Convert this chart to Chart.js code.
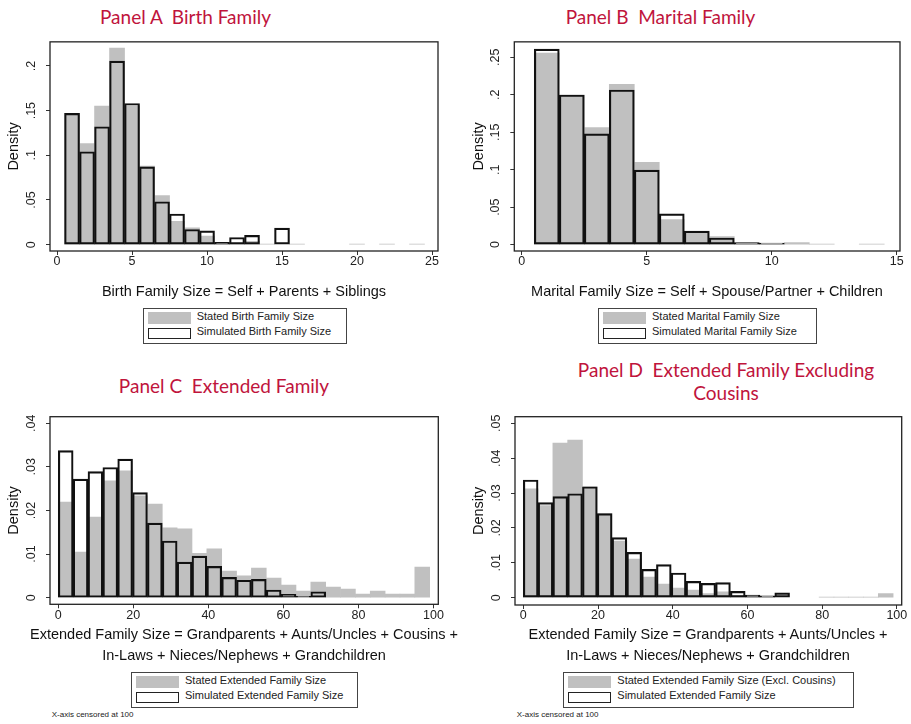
<!DOCTYPE html>
<html><head><meta charset="utf-8">
<script src="https://cdn.jsdelivr.net/npm/chart.js@4.4.1/dist/chart.umd.min.js"></script>
<style>
html,body{margin:0;padding:0;background:#fff;}
body{width:911px;height:724px;position:relative;overflow:hidden;font-family:"Liberation Sans",Arial,sans-serif;}
canvas{position:absolute;}
.title{position:absolute;color:#c0143c;font-family:Lato,"Open Sans",sans-serif;font-size:19px;white-space:pre;text-align:center;transform:translateX(-50%);line-height:23px;}
.xt{position:absolute;font-size:14.5px;color:#111;white-space:nowrap;text-align:center;transform:translateX(-50%);line-height:21px;}
.legend{position:absolute;border:1px solid #444;box-sizing:border-box;height:36px;font-size:11px;color:#222;}
.legend .s1{position:absolute;left:4px;top:3px;width:43px;height:12px;background:#c0c0c0;}
.legend .s2{position:absolute;left:4px;top:19.5px;width:43px;height:10.5px;border:1.4px solid #222;box-sizing:border-box;}
.legend .t{position:absolute;left:53px;line-height:13px;white-space:nowrap;}
.note{position:absolute;font-size:8px;color:#222;line-height:10px;white-space:nowrap;}
</style></head>
<body>
<div class="title" style="left:185.5px;top:4.5px">Panel A  Birth Family</div>
<div class="title" style="left:660.5px;top:4.5px">Panel B  Marital Family</div>
<div class="title" style="left:224px;top:373.5px">Panel C  Extended Family</div>
<div class="title" style="left:726px;top:357.5px">Panel D  Extended Family Excluding<br>Cousins</div>

<canvas id="cA" width="450" height="275" style="left:0px;top:30px;width:450px;height:275px"></canvas>
<canvas id="cB" width="456" height="275" style="left:455px;top:30px;width:456px;height:275px"></canvas>
<canvas id="cC" width="450" height="275" style="left:0px;top:395px;width:450px;height:275px"></canvas>
<canvas id="cD" width="456" height="275" style="left:455px;top:395px;width:456px;height:275px"></canvas>

<div class="xt" style="left:244px;top:280.5px">Birth Family Size = Self + Parents + Siblings</div>
<div class="xt" style="left:707px;top:280.5px">Marital Family Size = Self + Spouse/Partner + Children</div>
<div class="xt" style="left:244px;top:624px">Extended Family Size = Grandparents + Aunts/Uncles + Cousins +<br>In-Laws + Nieces/Nephews + Grandchildren</div>
<div class="xt" style="left:708px;top:624px">Extended Family Size = Grandparents + Aunts/Uncles +<br>In-Laws + Nieces/Nephews + Grandchildren</div>

<div class="legend" style="left:142.7px;top:307.7px;width:204px"><div class="s1"></div><div class="s2"></div><div class="t" style="top:1.8px">Stated Birth Family Size</div><div class="t" style="top:16.8px">Simulated Birth Family Size</div></div>
<div class="legend" style="left:598px;top:307.7px;width:219px"><div class="s1"></div><div class="s2"></div><div class="t" style="top:1.8px">Stated Marital Family Size</div><div class="t" style="top:16.8px">Simulated Marital Family Size</div></div>
<div class="legend" style="left:131px;top:671.7px;width:227px"><div class="s1"></div><div class="s2"></div><div class="t" style="top:1.8px">Stated Extended Family Size</div><div class="t" style="top:16.8px">Simulated Extended Family Size</div></div>
<div class="legend" style="left:563.3px;top:671.7px;width:291px"><div class="s1"></div><div class="s2"></div><div class="t" style="top:1.8px">Stated Extended Family Size (Excl. Cousins)</div><div class="t" style="top:16.8px">Simulated Extended Family Size</div></div>

<div class="note" style="left:51.7px;top:710.3px">X-axis censored at 100</div>
<div class="note" style="left:516.7px;top:710.3px">X-axis censored at 100</div>

<script>
// ---- Panel A: Birth family ----
const binsA = [1,2,3,4,5,6,7,8,9,10,11,12,13,14,15,16,17,18,19,20,21,22,23,24];
const statedA = [0.147,0.113,0.155,0.220,0.155,0.088,0.055,0.026,0.0188,0.0095,0.002,0.0008,0.0037,0.0006,0,0.0006,0,0,0,0.0006,0,0.0006,0,0.0006];
const simA = [0.147,0.104,0.132,0.2055,0.158,0.087,0.048,0.0343,0.017,0.0155,0.0026,0.008,0.0103,null,0.0185];
const xTicksA = [0,5,10,15,20,25];
const xLabelsA = ['0','5','10','15','20','25'];
const yTicksA = [0,0.05,0.1,0.15,0.2];
const yLabelsA = ['0','.05','.1','.15','.2'];

// ---- Panel B: Marital family ----
const binsB = [1,2,3,4,5,6,7,8,9,10,11,12,13,14];
const statedB = [0.2557,0.1998,0.1563,0.2139,0.110,0.0334,0.0175,0.0106,0.002,0.0015,0.0026,0.0008,0,0.0005];
const simB = [0.261,0.1998,0.1479,0.2064,0.0995,0.041,0.018,0.0088,0.0026,0.002];
const xTicksB = [0,5,10,15];
const xLabelsB = ['0','5','10','15'];
const yTicksB = [0,0.05,0.1,0.15,0.2,0.25];
const yLabelsB = ['0','.05','.1','.15','.2','.25'];

// ---- Panels C and D: Extended family (bin midpoints) ----
const binsCD = [1.98,5.94,9.9,13.86,17.82,21.78,25.74,29.7,33.66,37.62,41.58,45.54,49.5,53.46,57.42,61.38,65.34,69.3,73.26,77.22,81.18,85.14,89.1,93.06,97.02];
const statedC = [0.0219,0.01046,0.01847,0.0268,0.0291,0.02336,0.02145,0.016,0.0158,0.0102,0.0112,0.0061,0.005,0.0068,0.0045,0.0029,0.00153,0.0036,0.00244,0.002,0.00084,0.00153,0.00084,0.00084,0.00702];
const simC = [0.03374,0.0272,0.0289,0.02985,0.03176,0.0241,0.0171,0.013,0.00817,0.00954,0.00718,0.00466,0.004,0.0042,0.00176,0.00076,0.0003,0.00137];
const statedD = [0.0312,0.0264,0.04436,0.0452,0.0318,0.0241,0.01625,0.0111,0.0059,0.0039,0.00277,0.0022,0.00115,0.0017,0.0006,0.0003,0.0004,0,0,0,0.0002,0.0002,0.0002,0.0002,0.00115];
const simD = [0.03375,0.02725,0.029,0.0298,0.0318,0.0241,0.0172,0.013,0.0081,0.00946,0.00707,0.00468,0.0041,0.0043,0.0018,0.00076,0.0005,0.0014];
const xTicksCD = [0,20,40,60,80,100];
const xLabelsCD = ['0','20','40','60','80','100'];
const yTicksC = [0,0.01,0.02,0.03,0.04];
const yLabelsC = ['0','.01','.02','.03','.04'];
const yTicksD = [0,0.01,0.02,0.03,0.04,0.05];
const yLabelsD = ['0','.01','.02','.03','.04','.05'];

const FONT = '"Liberation Sans", Arial, sans-serif';
const GREY = '#c0c0c0';

const framePlugin = {
  id: 'frame',
  afterDatasetsDraw(chart) {
    const {ctx, chartArea: a} = chart;
    ctx.save();
    ctx.strokeStyle = '#222';
    ctx.lineWidth = 1.3;
    ctx.strokeRect(a.left, a.top, a.right - a.left, a.bottom - a.top);
    ctx.restore();
  }
};

function pts(bins, vals) {
  const out = [];
  vals.forEach((v, i) => { if (v !== null && v !== undefined && v > 0) out.push({x: bins[i], y: v}); });
  return out;
}

function panel(id, p) {
  new Chart(document.getElementById(id), {
    type: 'bar',
    data: {
      datasets: [
        {label: 'Stated', data: pts(p.bins, p.stated), backgroundColor: GREY, borderWidth: 0, order: 2,
         barPercentage: 1, categoryPercentage: 1, grouped: false},
        {label: 'Simulated', data: pts(p.bins, p.sim), backgroundColor: 'rgba(0,0,0,0)', borderColor: '#111',
         borderWidth: 1.5, borderSkipped: false, order: 1, barPercentage: 1, categoryPercentage: 1, grouped: false}
      ]
    },
    options: {
      responsive: false, animation: false, devicePixelRatio: 1,
      layout: {padding: {top: p.top, right: p.right, left: 0, bottom: 0}},
      plugins: {legend: {display: false}, tooltip: {enabled: false}},
      scales: {
        x: {
          type: 'linear', min: p.xmin, max: p.xmax, offset: false,
          afterFit(s) { s.height = p.xh; },
          afterBuildTicks(s) { s.ticks = p.xTicks.map(v => ({value: v})); },
          grid: {drawOnChartArea: false, drawTicks: true, tickLength: 4, color: '#333', lineWidth: 1, offset: false},
          border: {display: false},
          ticks: {font: {family: FONT, size: 12.5, lineHeight: 1}, color: '#222', padding: 0.5,
                  maxRotation: 0, minRotation: 0, autoSkip: false,
                  callback: (v, i) => p.xLabels[i]}
        },
        y: {
          type: 'linear', min: p.ymin, max: p.ymax,
          afterFit(s) { s.width = p.yw; },
          afterBuildTicks(s) { s.ticks = p.yTicks.map(v => ({value: v})); },
          grid: {drawOnChartArea: false, drawTicks: true, tickLength: 4, color: '#333', lineWidth: 1},
          border: {display: false},
          ticks: {font: {family: FONT, size: 12.5, lineHeight: 1}, color: '#222', padding: 5.6,
                  minRotation: 90, maxRotation: 90, crossAlign: 'center', autoSkip: false,
                  callback: (v, i) => p.yLabels[i]},
          title: {display: true, text: 'Density', color: '#111',
                  font: {family: FONT, size: 14.5, lineHeight: 1.2}, padding: {top: p.ytp, bottom: 0}}
        }
      }
    },
    plugins: [framePlugin]
  });
}

panel('cA', {bins: binsA, stated: statedA, sim: simA, xTicks: xTicksA, xLabels: xLabelsA, yTicks: yTicksA, yLabels: yLabelsA,
  xmin: -0.47, xmax: 25.4, ymin: -0.0071, ymax: 0.227, top: 9, right: 12, yw: 50, xh: 54, ytp: 5.3});
panel('cB', {bins: binsB, stated: statedB, sim: simB, xTicks: xTicksB, xLabels: xLabelsB, yTicks: yTicksB, yLabels: yLabelsB,
  xmin: -0.3, xmax: 15.13, ymin: -0.0085, ymax: 0.2707, top: 9, right: 11, yw: 59.3, xh: 54, ytp: 15.3});
panel('cC', {bins: binsCD, stated: statedC, sim: simC, xTicks: xTicksCD, xLabels: xLabelsCD, yTicks: yTicksC, yLabels: yLabelsC,
  xmin: -2.21, xmax: 101.3, ymin: -0.00151, ymax: 0.0415, top: 21.7, right: 11.7, yw: 50, xh: 65.7, ytp: 5.3});
panel('cD', {bins: binsCD, stated: statedD, sim: simD, xTicks: xTicksCD, xLabels: xLabelsCD, yTicks: yTicksD, yLabels: yLabelsD,
  xmin: -2.22, xmax: 101.3, ymin: -0.0021, ymax: 0.0519, top: 21.7, right: 9.3, yw: 60, xh: 65, ytp: 15.3});
</script>
</body></html>
